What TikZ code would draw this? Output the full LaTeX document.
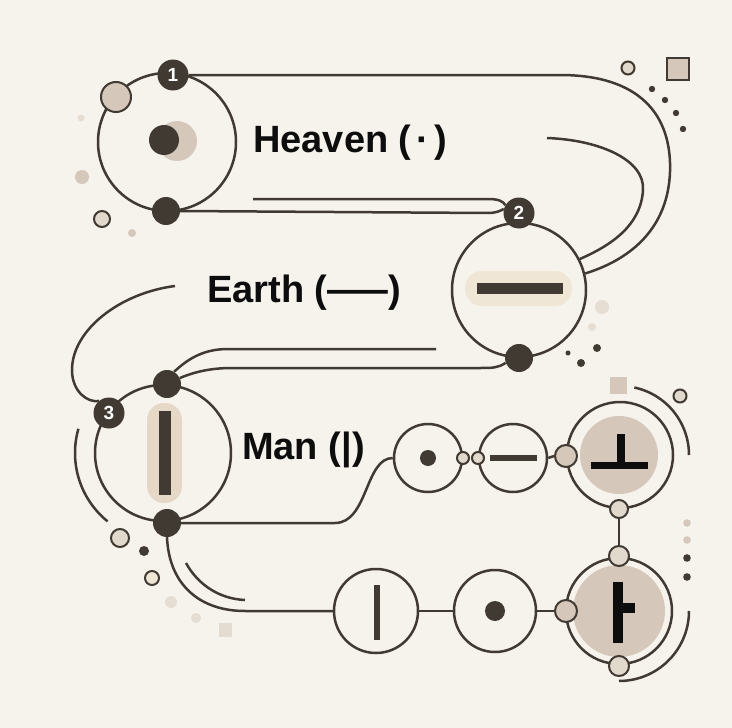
\documentclass[tikz,border=0pt]{standalone}
\usepackage{fontspec}
\usepackage{graphicx}
\setmainfont{Liberation Sans}
\definecolor{bg}{HTML}{F6F2EC}
\definecolor{dk}{HTML}{403A33}
\definecolor{bei}{HTML}{D5C8BA}
\definecolor{lbei}{HTML}{E2D9CD}
\definecolor{pillE}{HTML}{EFE6D6}
\definecolor{pillM}{HTML}{E6D8C6}
\definecolor{txt}{HTML}{0D0D0D}
\definecolor{pale}{HTML}{E6DDD3}
\tikzset{
 ln/.style={draw=dk, line width=2.5pt},
 ring/.style={circle, draw=dk, line width=2.5pt, inner sep=0pt},
 dotn/.style={circle, fill=dk, inner sep=0pt, minimum size=28pt},
 numn/.style={circle, fill=dk, text=white, inner sep=0pt, minimum size=31pt, font=\fontsize{19}{19}\selectfont\bfseries},
 smallc/.style={circle, draw=dk, line width=2pt, fill=lbei, inner sep=0pt},
 lbl/.style={anchor=base west, font=\fontsize{38}{40}\selectfont\bfseries, text=txt, inner sep=0pt},
 deco/.style={draw=dk, line width=2pt},
}
\begin{document}
\begin{tikzpicture}[x=1pt,y=-1pt]
\useasboundingbox (0,0) rectangle (732,728);
\fill[bg] (0,0) rectangle (732,728);

% ---------- Heaven ----------
\fill[bei] (177,141) circle (20);
\node[ring, minimum size=138pt] (heaven) at (167,142) {};
\node[dotn, minimum size=30pt] (hdot) at (164,140) {};
\node[smallc, fill=bei, minimum size=30pt] (hbead) at (116,97) {};
\node[numn] (n1) at (173,75) {1};
\node[dotn] (hb) at (166,211) {};

% ---------- Earth ----------
\node[ring, minimum size=134pt] (earth) at (519,290) {};
\fill[pillE, rounded corners=17pt] (465,271) rectangle (572,306);
\fill[dk] (477,283) rectangle (563,294);
\node[numn] (n2) at (519,213) {2};
\node[dotn] (eb) at (519,358) {};

% ---------- Man ----------
\node[ring, minimum size=136pt] (man) at (163,453) {};
\fill[pillM, rounded corners=17pt] (147,403) rectangle (182,503);
\fill[dk] (159,411) rectangle (171,495);
\node[numn] (n3) at (109,413) {3};
\node[dotn] (mt) at (167,384) {};
\node[dotn] (mb) at (167,523) {};

% ---------- labels ----------
\node[lbl] (th) at (253,152) {Heaven (\kern5pt·\kern5pt)};
\node[lbl] (te) at (207,302) {Earth (\scalebox{1.6}[1]{—})};
\node[lbl] (tm) at (242,459) {Man (|)};

% ---------- middle row ----------
\node[ring, minimum size=68pt] (c1) at (428,458) {};
\fill[dk] (428,458) circle (8);
\node[ring, minimum size=68pt] (c2) at (513,458) {};
\fill[dk] (490,455) rectangle (537,461);
\node[smallc, minimum size=12pt] (b1) at (463,458) {};
\node[smallc, minimum size=12pt] (b2) at (478,458) {};
\node[ring, minimum size=106pt] (tr) at (620,455) {};
\fill[bei] (619,455) circle (39);
\fill[txt] (617,434) rectangle (625,462);
\fill[txt] (591,462) rectangle (648,469);
\node[smallc, fill=bei, minimum size=22pt] (b3) at (566,456) {};
\node[smallc, minimum size=18pt] (b7) at (619,509) {};

% ---------- bottom row ----------
\node[ring, minimum size=84pt] (c4) at (376,611) {};
\fill[dk] (374,585) rectangle (380,640);
\node[ring, minimum size=82pt] (c5) at (495,611) {};
\fill[dk] (495,611) circle (10);
\node[ring, minimum size=106pt] (br) at (619,611) {};
\fill[bei] (619,611) circle (46);
\fill[txt] (613,582) rectangle (623,643);
\fill[txt] (623,603) rectangle (635,613);
\node[smallc, fill=bei, minimum size=22pt] (b4) at (566,611) {};
\node[smallc, minimum size=20pt] (b5) at (619,556) {};
\node[smallc, minimum size=20pt] (b6) at (619,666) {};

% ---------- connectors ----------
\coordinate (hi) at (547,138);
\coordinate (hu) at (253,199);
\coordinate (eu) at (436,349);
\coordinate (el) at (175,286);
\draw[ln] (n1.east) -- (560,75) .. controls (640,75) and (672,115) .. (670,172) .. controls (668,225) and (635,258) .. (earth.14);
\draw[ln] (hi) .. controls (600,140) and (645,160) .. (643,190) .. controls (641,225) and (612,245) .. (earth.27);
\draw[ln] (hu) -- (488,199) .. controls (498,199) and (503,201) .. (n2.150);
\draw[ln] (hb.east) -- (488,213) .. controls (496,213) and (500,211) .. (n2.165);
\draw[ln] (eu) -- (228,349) .. controls (200,349) and (185,362) .. (mt.60);
\draw[ln] (eb.200) .. controls (498,368) and (492,368) .. (480,368) -- (232,368) .. controls (208,368) and (192,373) .. (mt.25);
\draw[ln] (el) .. controls (120,293) and (72,330) .. (72,370) .. controls (72,392) and (88,403) .. (n3.130);
\draw[ln] (mb.east) -- (335,523) .. controls (368,523) and (365,458) .. (c1.west);
\draw[ln] (c2.east) -- (b3.west);
\draw[ln] (mb.south) .. controls (169,585) and (200,611) .. (245,611) -- (c4.west);
\draw[ln] (c4.east) -- (c5.west);
\draw[ln] (c5.east) -- (b4.west);
\draw[ln] (b7.south) -- (b5.north);

% ---------- arcs ----------
\draw[ln] (186,563) .. controls (198,585) and (220,599) .. (245,600);
\draw[ln, domain=129:196, samples=40] plot ({163+88*cos(\x)}, {453+88*sin(\x)});
\draw[ln, domain=-78:0, samples=40] plot ({620+69*cos(\x)}, {455+69*sin(\x)});
\draw[ln, domain=0:90, samples=40] plot ({619+70*cos(\x)}, {611+70*sin(\x)});

% ---------- decorations ----------
% top-left
\fill[pale] (81,118) circle (3.5);
\fill[bei] (82,177) circle (7);
\filldraw[deco, fill=lbei] (102,219) circle (8);
\fill[bei] (132,233) circle (4);
% top-right
\filldraw[deco, fill=lbei] (628,68) circle (6.5);
\filldraw[deco, fill=bei] (667,58) rectangle (689,80);
\foreach \p in {(652,89),(665,100),(676,113),(683,129)} \fill[dk] \p circle (3.2);
% near Earth
\fill[pale] (602,307) circle (7);
\fill[pale] (592,327) circle (4);
\fill[dk] (597,348) circle (4);
\fill[dk] (581,363) circle (4);
\fill[dk] (568,353) circle (2.5);
\fill[bei] (610,377) rectangle (627,394);
\filldraw[deco, fill=lbei] (680,396) circle (6.5);
% right column dots
\fill[bei] (687,523) circle (3.8);
\fill[bei] (687,540) circle (3.8);
\fill[dk] (687,558) circle (3.8);
\fill[dk] (687,577) circle (3.8);
% bottom-left
\filldraw[deco, fill=lbei] (120,538) circle (9);
\fill[dk] (144,551) circle (5);
\filldraw[deco, fill=pillE] (152,578) circle (7);
\fill[pale] (171,602) circle (6);
\fill[pale] (196,618) circle (5);
\fill[pale!90!bei] (219,623) rectangle (232,637);
\end{tikzpicture}
\end{document}
